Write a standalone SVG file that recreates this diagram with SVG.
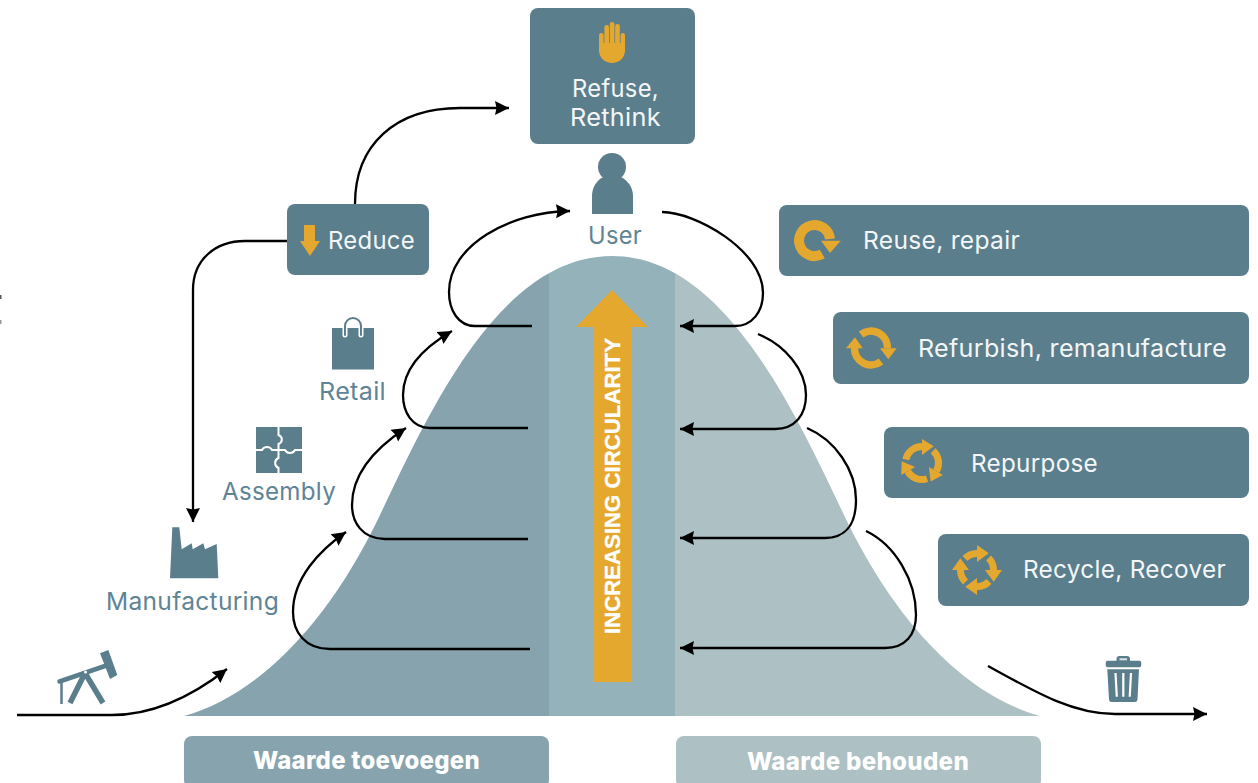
<svg xmlns="http://www.w3.org/2000/svg" xmlns:xlink="http://www.w3.org/1999/xlink" width="1258" height="783" viewBox="0 0 1258 783">
<style>
text{font-family:"Inter","Noto Sans","Liberation Sans",sans-serif;font-size:24.500px;letter-spacing:.3px}
.box{fill:#5A7E8C}
.w{fill:#F3F6F7}
.l{fill:#5F8496}
.b{fill:#fff;font-weight:800}
.ic{fill:#5A7E8C}
.o{fill:#E5A82F}
.os{fill:none;stroke:#E5A82F}
.c{fill:none;stroke:#000;stroke-width:2.300;marker-end:url(#ah)}
</style>
<defs>
<marker id="ah" markerUnits="userSpaceOnUse" markerWidth="16" markerHeight="16" refX="14" refY="8" orient="auto"><path d="M0,1 L14,8 L0,15 L1.500,8 Z" fill="#000"/></marker>
<path id="bell" d="M184,716 C260,695 330,620 380,515 C430,410 500,256 612,256 C724,256 794,410 844,515 C894,620 964,695 1040,716 Z"/>
<clipPath id="bc"><use xlink:href="#bell" href="#bell"/></clipPath>
<g id="a3"><path class="os" stroke-width="7" d="M-16.200,-3.500 A16.500,16.500 0 0 1 0,-16.500"/><path class="o" d="M0,-24 L11.700,-16.700 L0,-8 Z"/></g>
<g id="a4"><path class="os" stroke-width="7" d="M-12,-11.500 A16.500,16.500 0 0 1 0,-16.500"/><path class="o" d="M0,-25 L11.700,-16.700 L0,-8 Z"/></g>
</defs>

<g id="curve">
<g clip-path="url(#bc)">
<rect x="180" y="250" width="369" height="470" fill="#87A4AE"/>
<rect x="549" y="250" width="126" height="470" fill="#94B2BA"/>
<rect x="675" y="250" width="370" height="470" fill="#ADC0C4"/>
</g>
</g>

<g id="circularity-arrow">
<path class="o" d="M612,290 L648,327 H632 V682 H593 V327 H576 Z"/>
<text transform="translate(620,634) rotate(-90)" textLength="296" lengthAdjust="spacingAndGlyphs" style="font-family:'Liberation Sans',Arial,sans-serif;font-weight:700;font-size:22.500px;letter-spacing:0;stroke:#fff;stroke-width:.3px" fill="#fff">INCREASING CIRCULARITY</text>
</g>

<g id="connectors">
<path class="c" d="M17,715 H112 C155,715 195,694 227,669"/>
<path class="c" d="M530,649 H330 C305,649 293,632 293,612 C293,578 320,550 346,532"/>
<path class="c" d="M528,539 H385 C362,539 352,522 352,505 C352,470 380,445 406,428"/>
<path class="c" d="M528,428 H430 C412,428 403,412 403,395 C403,365 428,345 452,331"/>
<path class="c" d="M532,326 H475 C458,326 449,310 449,292 C449,245 510,212 570,211"/>
<path class="c" d="M662,212 C695,212 763,250 763,293 C763,312 752,326 735,326 H680"/>
<path class="c" d="M758,334 C785,345 806,370 806,395 C806,415 795,429 775,429 H680"/>
<path class="c" d="M807,428 C835,440 856,470 856,500 C856,525 845,538 825,538 H680"/>
<path class="c" d="M866,531 C895,545 916,580 916,615 C916,635 905,648 885,648 H680"/>
<path class="c" d="M988,666 C1040,695 1075,714 1115,714 H1207"/>
<path class="c" d="M355,204 C355,145 395,108 460,108 H509"/>
<path class="c" d="M287,241 H245 C215,241 193,260 193,290 V522"/>
</g>

<g id="refuse">
<rect class="box" x="530" y="8" width="165" height="136" rx="8"/>
<g class="o">
<rect x="599" y="33" width="4.600" height="20" rx="2.300"/>
<rect x="604.400" y="25" width="4.600" height="24" rx="2.300"/>
<rect x="609.800" y="22" width="4.600" height="26" rx="2.300"/>
<rect x="615.200" y="24" width="4.600" height="24" rx="2.300"/>
<rect x="620.600" y="33" width="4.400" height="20" rx="2.200"/>
<path d="M599,43 H625 V50 C625,58 619,63 612,63 C605,63 599,58 599,50 Z"/>
</g>
<text class="w" x="572" y="97" textLength="87" lengthAdjust="spacingAndGlyphs">Refuse,</text>
<text class="w" x="570" y="126" textLength="91" lengthAdjust="spacingAndGlyphs">Rethink</text>
</g>

<g id="user">
<circle class="ic" cx="612" cy="167" r="14"/>
<path class="ic" d="M592,214 V196 C592,185 600,175 612,175 C624,175 633,185 633,196 V214 Z"/>
<text class="l" x="588" y="244" textLength="54" lengthAdjust="spacingAndGlyphs">User</text>
</g>

<g id="reduce">
<rect class="box" x="287" y="204" width="142" height="71" rx="8"/>
<path class="o" d="M304,225 H315 V241 H320 L310,256 L300,241 H304 Z"/>
<text class="w" x="328" y="249" textLength="87" lengthAdjust="spacingAndGlyphs">Reduce</text>
</g>

<g id="retail">
<rect class="ic" x="332" y="328" width="42" height="41.500"/>
<path d="M345,335 V326 A8,8 0 0 1 361,326 V335" fill="none" stroke="#fff" stroke-width="5" stroke-linecap="round"/>
<path d="M345,335 V326 A8,8 0 0 1 361,326 V335" fill="none" stroke="#5A7E8C" stroke-width="2" stroke-linecap="round"/>
<text class="l" x="319" y="400" textLength="67" lengthAdjust="spacingAndGlyphs">Retail</text>
</g>

<g id="assembly">
<rect class="ic" x="256" y="427" width="46" height="46"/>
<path d="M278.500,427 V435 C283,437 283,442 278.500,444 V458 C274,460 274,466 278.500,468 V473 M256,450 H262 C264,446 270,446 272,450 H285 C287,454 293,454 295,450 H302" fill="none" stroke="#fff" stroke-width="2"/>
<text class="l" x="222" y="500" textLength="114" lengthAdjust="spacingAndGlyphs">Assembly</text>
</g>

<g id="manufacturing">
<path class="ic" d="M172.300,527.300 H179.300 L181.700,549.300 L191.700,543.300 L192.700,549.300 L203.300,543.300 L205,549.300 L216.700,544 L218.300,578.300 H170 Z"/>
<text class="l" x="106" y="610" textLength="173" lengthAdjust="spacingAndGlyphs">Manufacturing</text>
</g>

<g id="pumpjack">
<path d="M59.500,681.500 L105,666" stroke="#5A7E8C" stroke-width="4.500" fill="none" stroke-linecap="round"/>
<path class="ic" d="M100,653.300 L108.300,650 L117.300,675 L110,679 Z"/>
<path d="M85,673 L70,703 M85,673 L103,703" stroke="#5A7E8C" stroke-width="5.500" fill="none"/>
<path d="M61.500,681 V704" stroke="#5A7E8C" stroke-width="2.500" fill="none"/>
<circle cx="85.500" cy="672" r="1.500" fill="#fff"/>
</g>

<g id="trash">
<path class="ic" d="M1116.500,660.700 V659 Q1116.500,656 1119.500,656 H1127 Q1130,656 1130,659 V660.700 H1139.500 Q1141.300,660.700 1141.300,664 Q1141.300,667.300 1139.500,667.300 H1107.500 Q1105.700,667.300 1105.700,664 Q1105.700,660.700 1107.500,660.700 Z"/>
<rect x="1119.500" y="658.300" width="7.500" height="2" fill="#DCE5E8"/>
<path class="ic" d="M1107.300,669.300 H1139 L1137.500,699.500 Q1137.300,702 1135,702 H1111.500 Q1109.200,702 1109,699.500 Z"/>
<path d="M1115.500,673 L1116.800,696.700 M1123.300,673 V696.700 M1131,673 L1129.700,696.700" stroke="#fff" stroke-width="2.200" fill="none"/>
</g>

<g id="reuse">
<rect class="box" x="779" y="205" width="470" height="71" rx="8"/>
<path class="os" stroke-width="10" d="M822.300,254 A15.500,15.500 0 1 1 830,239"/>
<path class="o" d="M821,240.700 H840.700 L830,253 Z"/>
<text class="w" x="863" y="249" textLength="157" lengthAdjust="spacingAndGlyphs">Reuse, repair</text>
</g>

<g id="refurbish">
<rect class="box" x="833" y="312" width="416" height="72" rx="8"/>
<path class="os" stroke-width="7.500" d="M861,334.500 A16.500,16.500 0 0 1 887.500,348"/>
<path class="o" d="M880,348.300 H896.700 L888.300,359.300 Z"/>
<path class="os" stroke-width="7.500" d="M881,361.500 A16.500,16.500 0 0 1 854.500,348"/>
<path class="o" d="M846,348.300 H862.700 L855,337.300 Z"/>
<text class="w" x="918" y="357" textLength="309" lengthAdjust="spacingAndGlyphs">Refurbish, remanufacture</text>
</g>

<g id="repurpose">
<rect class="box" x="884" y="427" width="365" height="71" rx="8"/>
<g transform="translate(922,463)">
<use xlink:href="#a3" href="#a3"/>
<use xlink:href="#a3" href="#a3" transform="rotate(120)"/>
<use xlink:href="#a3" href="#a3" transform="rotate(240)"/>
</g>
<text class="w" x="971" y="472" textLength="127" lengthAdjust="spacingAndGlyphs">Repurpose</text>
</g>

<g id="recycle">
<rect class="box" x="938" y="534" width="311" height="72" rx="8"/>
<g transform="translate(977,570)">
<use xlink:href="#a4" href="#a4"/>
<use xlink:href="#a4" href="#a4" transform="rotate(90)"/>
<use xlink:href="#a4" href="#a4" transform="rotate(180)"/>
<use xlink:href="#a4" href="#a4" transform="rotate(270)"/>
</g>
<text class="w" x="1023" y="578" textLength="203" lengthAdjust="spacingAndGlyphs">Recycle, Recover</text>
</g>

<g id="waarde-toevoegen">
<rect x="184" y="736" width="365" height="52" rx="8" fill="#87A4AE"/>
<text class="b" x="253" y="769" textLength="227" lengthAdjust="spacingAndGlyphs">Waarde toevoegen</text>
</g>

<g id="waarde-behouden">
<rect x="676" y="736" width="365" height="52" rx="8" fill="#ADC0C4"/>
<text class="b" x="747" y="770" textLength="222" lengthAdjust="spacingAndGlyphs">Waarde behouden</text>
</g>

<g id="edge-marks">
<rect x="0" y="295" width="1.500" height="4" fill="#555"/>
<rect x="0" y="320" width="1.500" height="4" fill="#999"/>
</g>
</svg>
